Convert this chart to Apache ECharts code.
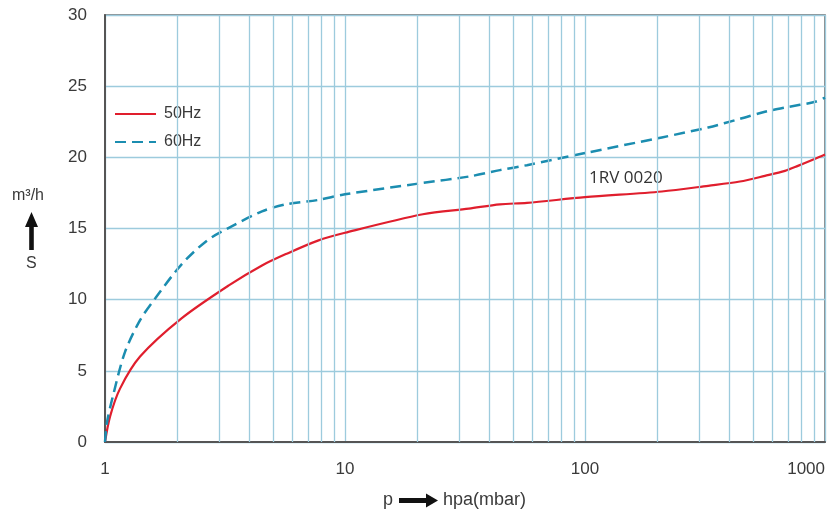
<!DOCTYPE html>
<html>
<head>
<meta charset="utf-8">
<script src="https://cdn.jsdelivr.net/npm/echarts@6/dist/echarts.min.js"></script>
<style>
  html, body { margin: 0; padding: 0; background: #fff; }
  #chart { width: 828px; height: 517px; }
</style>
</head>
<body>
<div id="chart"></div>
<script>
// pressure p (hPa) vs pumping speed S (m3/h)
const hz50 = [
  [1, 0], [1.05, 1.8], [1.155, 3.75], [1.4, 6.0], [2.09, 8.7], [3.28, 11.0],
  [4.51, 12.4], [5.67, 13.2], [7.71, 14.15], [10, 14.7], [21.1, 16.0],
  [32.8, 16.4], [44.2, 16.7], [57.3, 16.8], [100, 17.2], [209, 17.6],
  [326, 18.0], [442, 18.3], [562, 18.7], [681, 19.05], [771, 19.4],
  [910, 19.9], [1000, 20.2]
]
const hz60 = [
  [1, 0], [1.02, 1.4], [1.08, 3.25], [1.21, 6.3], [1.4, 8.56], [1.62, 10.1],
  [2.09, 12.5], [2.66, 14.15], [3.28, 15.05], [4.51, 16.2], [5.67, 16.7],
  [7.71, 17.0], [10, 17.4], [21.1, 18.2], [32.8, 18.65], [44.2, 19.1],
  [57.3, 19.45], [100, 20.3], [209, 21.4], [326, 22.1], [442, 22.7],
  [562, 23.2], [681, 23.5], [910, 23.9], [1000, 24.2]
]
// minor log grid lines between decades
const minorLines = [2, 3, 4, 5, 6, 7, 8, 9, 20, 30, 40, 50, 60, 70, 80, 90,
  200, 300, 400, 500, 600, 700, 800, 900]

const gridBlue = '#9dcbdd'
const textCol = '#3a3a3a'

const chart = echarts.init(document.getElementById('chart'))
chart.setOption({
  animation: false,
  backgroundColor: '#fff',
  grid: {
    left: 105, right: 3, top: 15, bottom: 75,
    show: true, borderColor: '#666', borderWidth: 1.5
  },
  legend: {
    data: ['50Hz', '60Hz'],
    orient: 'vertical',
    left: 114, top: 106,
    itemWidth: 41, itemHeight: 14, itemGap: 12,
    padding: 0,
    itemStyle: { opacity: 0 },
    textStyle: { fontSize: 16, color: textCol, fontFamily: 'Liberation Sans', padding: [0, 0, 0, 3] }
  },
  xAxis: {
    type: 'log',
    logBase: 10,
    min: 1, max: 1000,
    axisLine: { lineStyle: { color: '#555', width: 2 } },
    axisTick: { show: false },
    axisLabel: {
      fontSize: 17, color: textCol, fontFamily: 'Liberation Sans', margin: 19,
      alignMaxLabel: 'right',
      formatter: v => String(Math.round(v))
    },
    splitLine: { show: true, lineStyle: { color: gridBlue, width: 1.3 } }
  },
  yAxis: {
    type: 'value',
    min: 0, max: 30, interval: 5,
    axisLine: { show: true, lineStyle: { color: '#555', width: 2 } },
    axisTick: { show: false },
    axisLabel: { fontSize: 17, color: textCol, fontFamily: 'Liberation Sans', margin: 18 },
    splitLine: { show: true, lineStyle: { color: gridBlue, width: 1.3 } }
  },
  series: [
    {
      name: 'minor',
      type: 'line',
      data: [],
      z: 1,
      silent: true,
      markLine: {
        silent: true,
        symbol: 'none',
        label: { show: false },
        lineStyle: { color: gridBlue, width: 1.3, type: 'solid' },
        data: minorLines.map(v => ({ xAxis: v }))
      }
    },
    {
      name: '50Hz',
      type: 'line',
      data: hz50,
      smooth: 0.3,
      symbol: 'none',
      z: 3,
      lineStyle: { color: '#e01e2d', width: 2.2 },
      itemStyle: { color: '#e01e2d' }
    },
    {
      name: '60Hz',
      type: 'line',
      data: hz60,
      smooth: 0.3,
      symbol: 'none',
      z: 3,
      lineStyle: { color: '#1b8db0', width: 2.5, type: [11, 6] },
      itemStyle: { color: '#1b8db0' }
    }
  ],
  graphic: [
    // y axis name: m³/h, arrow, S
    { type: 'text', left: 12, top: 188,
      style: { text: 'm³/h', fontSize: 16, fill: textCol, fontFamily: 'Liberation Sans' } },
    { type: 'polygon',
      shape: { points: [[25, 227], [31.5, 212], [38, 227], [33.8, 227], [33.8, 250], [29.2, 250], [29.2, 227]] },
      style: { fill: '#111' } },
    { type: 'text', left: 26, top: 256,
      style: { text: 'S', fontSize: 16, fill: textCol, fontFamily: 'Liberation Sans' } },
    // x axis name: p -> hpa(mbar)
    { type: 'text', left: 383, top: 491,
      style: { text: 'p', fontSize: 18, fill: textCol, fontFamily: 'Liberation Sans' } },
    { type: 'polygon',
      shape: { points: [[399, 498], [426, 498], [426, 493.5], [438, 500.5], [426, 507.5], [426, 503], [399, 503]] },
      style: { fill: '#111' } },
    { type: 'text', left: 443, top: 491,
      style: { text: 'hpa(mbar)', fontSize: 18, fill: textCol, fontFamily: 'Liberation Sans' } },
    // model label
    { type: 'text', left: 589, top: 170,
      style: { text: '1RV 0020', fontSize: 17, fill: '#333', fontFamily: 'Open Sans' } }
  ]
})
</script>
</body>
</html>
